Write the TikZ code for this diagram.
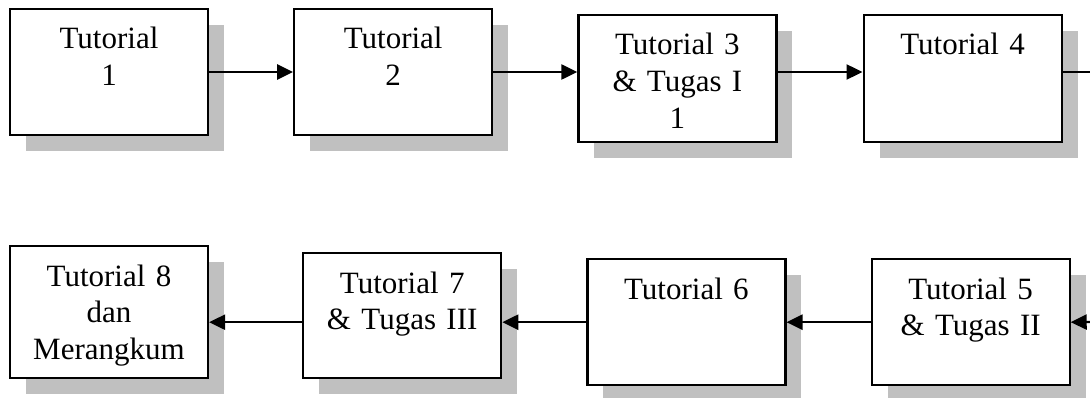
\documentclass[tikz,border=0pt]{standalone}
\usepackage{fontspec}
\setmainfont{Liberation Serif}
\usetikzlibrary{shapes,arrows.meta,positioning,shadows}
\definecolor{shadowgray}{RGB}{192,192,192}

\begin{document}
\begin{tikzpicture}[
            x=1pt, y=1pt,
            node distance=84pt,
            tutbox/.style={rectangle, draw, line width=2.2pt, fill=white,
                minimum width=198pt, text width=188pt, align=center,
                inner xsep=5pt, inner ysep=18pt, text height=22pt, text depth=68pt,
                font=\fontsize{31}{36.7}\selectfont,
                drop shadow={shadow xshift=16pt, shadow yshift=-16pt, fill=shadowgray, opacity=1}},
            arrow/.style={-{Triangle[length=16pt,width=15pt]}, line width=2.4pt}
        ]
            \useasboundingbox (0,0) rectangle (1090,-398);

            \node[tutbox] (tut1) at (109,-72) {Tutorial\\1};
            \node[tutbox, right=of tut1] (tut2) {Tutorial\\2};
            \node[tutbox, right=of tut2, yshift=-6.5pt, text depth=69pt] (tut3) {Tutorial 3\\\& Tugas I\\1};
            \node[tutbox, right=85pt of tut3, text depth=69pt] (tut4) {Tutorial 4};

            \node[tutbox, below=109pt of tut1, text depth=74pt] (tut8) {Tutorial 8\\dan\\Merangkum};
            \node[tutbox, right=93pt of tut8.south east, anchor=south west, text depth=67pt] (tut7) {Tutorial 7\\\& Tugas III};
            \node[tutbox, right=84pt of tut7.south east, anchor=south west, yshift=-7pt] (tut6) {Tutorial 6};
            \node[tutbox, right=of tut6] (tut5) {Tutorial 5\\\& Tugas II};

            \coordinate (exit4) at (1090,-72);
            \coordinate (enter5) at (1090,-322);

            \draw[arrow] (tut1) -- (tut2);
            \draw[arrow] (tut2.east) -- (tut2.east -| tut3.west);
            \draw[arrow] (tut3.east |- tut1.east) -- (tut4.west |- tut1.east);
            \draw[line width=2.4pt] (tut4.east |- tut1.east) -- (exit4);
            \draw[arrow] (enter5) -- (tut5.east);
            \draw[arrow] (tut5) -- (tut6);
            \draw[arrow] (tut6.west) -- (tut6.west -| tut7.east);
            \draw[arrow] (tut6.west -| tut7.west) -- (tut6.west -| tut8.east);
        \end{tikzpicture}
\end{document}
